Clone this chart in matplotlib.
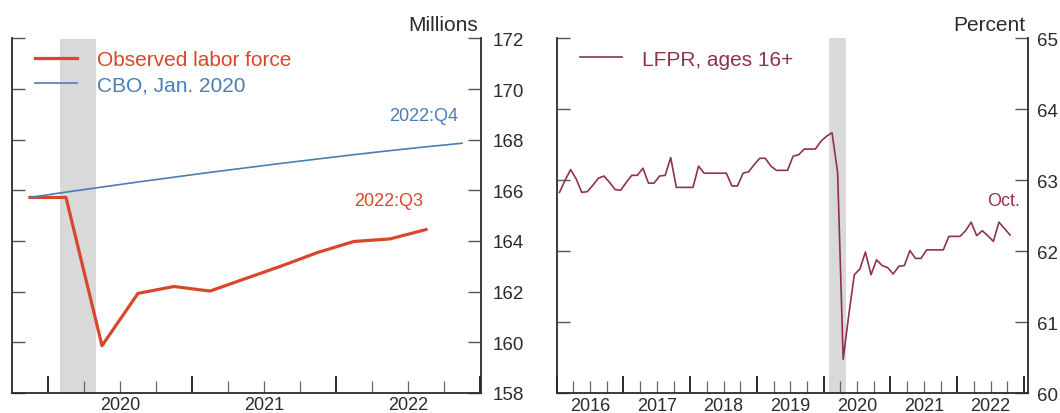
import matplotlib
matplotlib.use('Agg')
import matplotlib.pyplot as plt
import pandas as pd

plt.rcParams['font.family'] = ['Liberation Sans', 'DejaVu Sans']

# Left panel: labor force level, millions (quarterly)
lf_quarters = pd.period_range('2019Q4', '2022Q3', freq='Q')
observed_lf = [165.72, 165.72, 159.86, 161.93, 162.20, 162.02,
               162.52, 163.02, 163.55, 163.98, 164.08, 164.45]

cbo_quarters = pd.period_range('2019Q4', '2022Q4', freq='Q')
cbo_lf = [165.72, 165.93, 166.13, 166.33, 166.52, 166.71, 166.89,
          167.07, 167.24, 167.41, 167.57, 167.72, 167.86]

# Right panel: labor force participation rate, percent (monthly)
lfpr_months = pd.period_range('2016-01', '2022-10', freq='M')
lfpr = [62.83, 63.00, 63.15, 63.02, 62.83, 62.84, 62.93, 63.03, 63.06, 62.97, 62.87, 62.86,
        62.97, 63.07, 63.07, 63.17, 62.96, 62.96, 63.06, 63.07, 63.32, 62.90, 62.90, 62.90,
        62.90, 63.20, 63.10, 63.10, 63.10, 63.10, 63.10, 62.92, 62.92, 63.10, 63.12, 63.22,
        63.31, 63.31, 63.20, 63.14, 63.14, 63.14, 63.34, 63.36, 63.44, 63.44, 63.44, 63.55,
        63.62, 63.67, 63.11, 60.48, 61.10, 61.67, 61.75, 61.99, 61.67, 61.88, 61.80, 61.77,
        61.68, 61.79, 61.80, 62.01, 61.90, 61.90, 62.02, 62.02, 62.02, 62.02, 62.21, 62.21,
        62.21, 62.29, 62.41, 62.22, 62.29, 62.22, 62.14, 62.41, 62.32, 62.23]

# recession Feb-Apr 2020
recession = (2020 + 1 / 12, 2020 + 4 / 12)

RED = '#d9472b'
BLUE = '#4a7db6'
MAROON = '#8e3446'
SHADE = '#d9d9d9'
INK = '#2b2b2b'


def quarter_x(periods):
    return periods.year + (periods.quarter - 0.5) / 4


def month_x(periods):
    return periods.year + (periods.month - 0.5) / 12


def style_axes(ax, xlim, ylim, yticks, years, label_pad):
    ax.set_xlim(*xlim)
    ax.set_ylim(*ylim)
    ax.axvspan(*recession, color=SHADE, lw=0, zorder=0)
    ax.spines['top'].set_visible(False)
    for s in ['left', 'right', 'bottom']:
        ax.spines[s].set_color(INK)
        ax.spines[s].set_linewidth(1.3)
    ax.set_yticks(yticks)
    ax.tick_params(axis='y', which='both', direction='in', left=True, right=True,
                   labelleft=False, labelright=True, length=9.4, width=1.0,
                   color='#555555', labelsize=13.5, labelcolor=INK, pad=label_pad)
    year_starts = list(range(years[0], years[-1] + 2))
    quarters = [y + q / 4 for y in years for q in (1, 2, 3)]
    ax.set_xticks(year_starts)
    ax.set_xticks(quarters, minor=True)
    ax.tick_params(axis='x', which='major', direction='in', length=12, width=1.4,
                   color=INK, labelbottom=False)
    ax.tick_params(axis='x', which='minor', direction='in', length=9, width=0.9,
                   color='#666666')
    # year labels sit between the year-boundary ticks
    for yr in years:
        ax.annotate(str(yr), xy=(yr + 0.5, 0), xycoords=('data', 'axes fraction'),
                    xytext=(0, -2.5), textcoords='offset points', ha='center', va='top',
                    fontsize=13, color=INK)


fig = plt.figure(figsize=(10.6, 4.14), dpi=100)
ax1 = fig.add_axes([12 / 1060, 20.2 / 414, 469 / 1060, 354.3 / 414])
ax2 = fig.add_axes([556.7 / 1060, 19.7 / 414, 471.6 / 1060, 355 / 414])

# ---- left panel
style_axes(ax1, (2019.75, 2023.007), (158, 172), range(158, 173, 2), [2020, 2021, 2022], 8.5)
ax1.plot(quarter_x(lf_quarters), observed_lf, color=RED, lw=2.3, label='Observed labor force')
ax1.plot(quarter_x(cbo_quarters), cbo_lf, color=BLUE, lw=1.2, label='CBO, Jan. 2020')
leg = ax1.legend(loc='upper left', bbox_to_anchor=(0.049, 0.968), frameon=False,
                 fontsize=15, handlelength=2.0, handletextpad=1.0, labelspacing=0.33,
                 borderpad=0, borderaxespad=0)
for t, c in zip(leg.get_texts(), [RED, BLUE]):
    t.set_color(c)
ax1.text(2022.845, 168.95, '2022:Q4', ha='right', va='center', color=BLUE, fontsize=13)
ax1.text(2022.606, 165.59, '2022:Q3', ha='right', va='center', color=RED, fontsize=13)
ax1.annotate('Millions', xy=(1, 1), xycoords='axes fraction', xytext=(-2.2, 6),
             textcoords='offset points', ha='right', va='baseline', fontsize=15, color=INK)

# ---- right panel
style_axes(ax2, (2016.0, 2023.065), (60, 65), range(60, 66),
           list(range(2016, 2023)), 6.5)
ax2.plot(month_x(lfpr_months), lfpr, color=MAROON, lw=1.2, label='LFPR, ages 16+')
leg2 = ax2.legend(loc='upper left', bbox_to_anchor=(0.0494, 0.968), frameon=False,
                  fontsize=15, handlelength=2.0, handletextpad=1.0,
                  borderpad=0, borderaxespad=0)
leg2.get_texts()[0].set_color(MAROON)
ax2.text(2022.946, 62.72, 'Oct.', ha='right', va='center', color=MAROON, fontsize=13)
ax2.annotate('Percent', xy=(1, 1), xycoords='axes fraction', xytext=(-2.4, 6),
             textcoords='offset points', ha='right', va='baseline', fontsize=15, color=INK)

fig.savefig('out.png', dpi=100)
